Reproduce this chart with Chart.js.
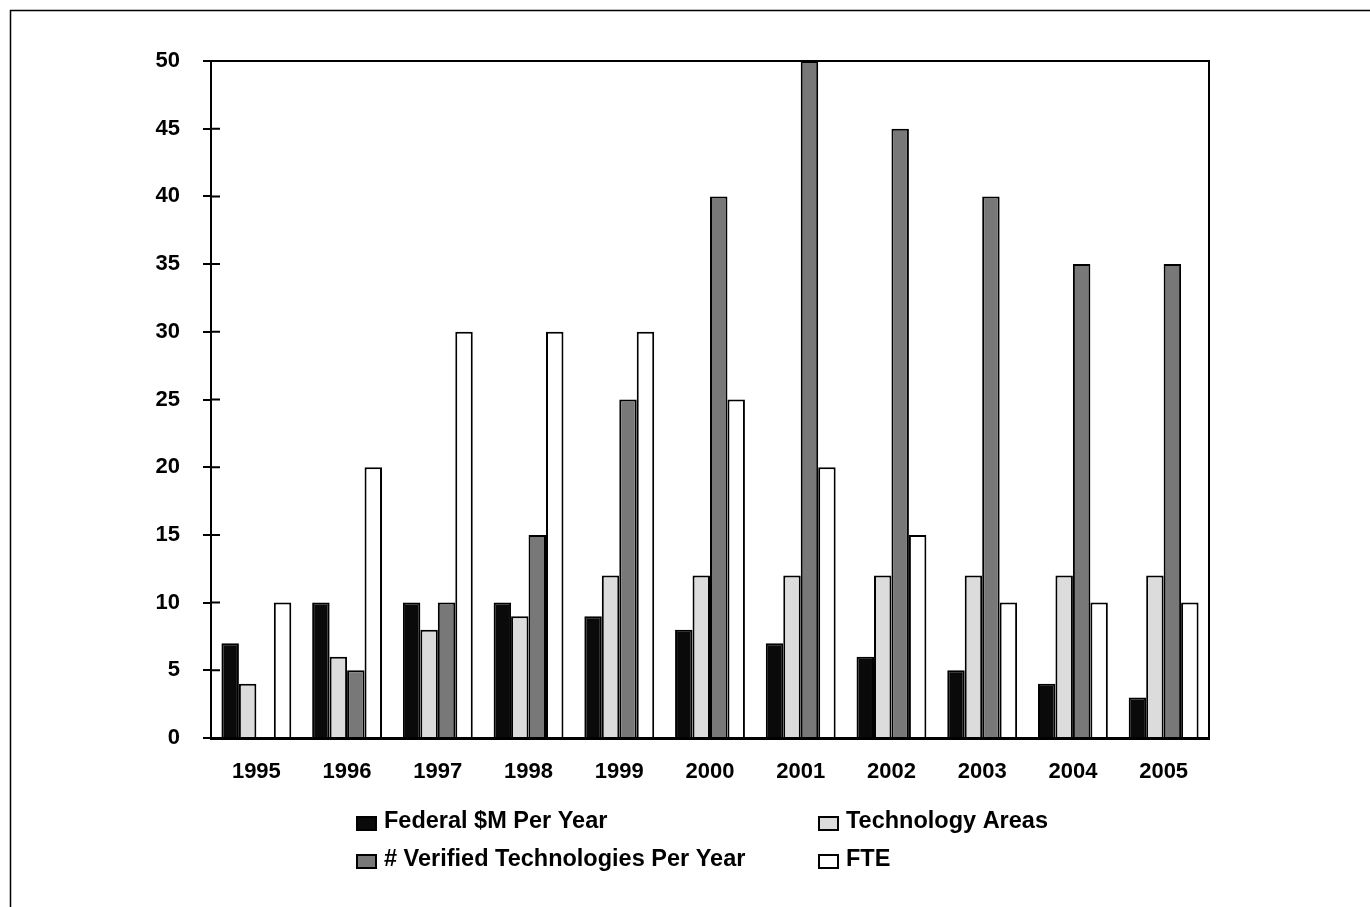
<!DOCTYPE html>
<html>
<head>
<meta charset="utf-8">
<script src="https://cdn.jsdelivr.net/npm/chart.js@4"></script>
<style>
  html, body { margin: 0; padding: 0; background: #fff; }
  #wrap { width: 1370px; height: 907px; }
</style>
</head>
<body>
<div id="wrap"><canvas id="canvas"></canvas></div>
<script>
let anos = ['1995', '1996', '1997', '1998', '1999', '2000', '2001', '2002', '2003', '2004', '2005'];
let federal = [7, 10, 10, 10, 9, 8, 7, 6, 5, 4, 3];
let areas = [4, 6, 8, 9, 12, 12, 12, 12, 12, 12, 12];
let verificadas = [null, 5, 10, 15, 25, 40, 50, 45, 40, 35, 35];
let fte = [10, 20, 30, 30, 30, 25, 20, 15, 10, 10, 10];

let fonte = { family: 'Liberation Sans, Arial, sans-serif', size: 22, weight: 'bold' };

// moldura, borda do grafico, tracos internos e legenda em duas colunas
let extras = {
  id: 'extras',
  afterDraw(chart) {
    let ctx = chart.ctx;
    let area = chart.chartArea;
    ctx.save();
    ctx.strokeStyle = '#000';

    ctx.lineWidth = 1.5;
    ctx.strokeRect(10.5, 10.5, 2000, 2000);

    ctx.lineWidth = 2;
    ctx.beginPath();
    ctx.moveTo(area.left, area.top);
    ctx.lineTo(area.right, area.top);
    ctx.lineTo(area.right, area.bottom);
    ctx.stroke();

    let y = chart.scales.y;
    ctx.beginPath();
    y.ticks.forEach(function(t) {
      let py = y.getPixelForValue(t.value);
      ctx.moveTo(area.left, py);
      ctx.lineTo(area.left + 9, py);
    });
    ctx.stroke();

    let colX = [357, 819];
    let rowY = [822, 860];
    ctx.font = 'bold 23.5px Liberation Sans, Arial, sans-serif';
    ctx.textBaseline = 'middle';
    ctx.textAlign = 'left';
    chart.data.datasets.forEach(function(ds, i) {
      let x = colX[i % 2];
      let yy = rowY[Math.floor(i / 2)];
      ctx.fillStyle = ds.backgroundColor;
      ctx.fillRect(x, yy - 5, 19, 13);
      ctx.lineWidth = 2;
      ctx.strokeStyle = '#000';
      ctx.strokeRect(x, yy - 5, 19, 13);
      ctx.fillStyle = '#000';
      ctx.fillText(ds.label, x + 27, yy);
    });
    ctx.restore();
  }
};

let configuracao = {
  type: 'bar',
  data: {
    labels: anos,
    datasets: [{
      label: 'Federal $M Per Year',
      data: federal,
      backgroundColor: '#0a0a0a'
    }, {
      label: 'Technology Areas',
      data: areas,
      backgroundColor: '#dcdcdc'
    }, {
      label: '# Verified Technologies Per Year',
      data: verificadas,
      backgroundColor: '#787878'
    }, {
      label: 'FTE',
      data: fte,
      backgroundColor: '#ffffff'
    }]
  },
  options: {
    responsive: true,
    maintainAspectRatio: false,
    animation: false,
    datasets: {
      bar: {
        borderColor: '#000',
        borderWidth: 2,
        borderSkipped: 'bottom',
        categoryPercentage: 0.77,
        barPercentage: 1
      }
    },
    layout: {
      padding: { top: 61, left: 0, right: 161, bottom: 0 }
    },
    plugins: {
      legend: { display: false },
      title: { display: false },
      tooltip: { enabled: false }
    },
    scales: {
      x: {
        grid: { display: false, drawTicks: false },
        border: { display: true, color: '#000', width: 3 },
        ticks: { color: '#000', font: fonte, padding: 21, maxRotation: 0 },
        afterFit: function(scale) { scale.height = 169; }
      },
      y: {
        min: 0,
        max: 50,
        grid: { display: true, drawOnChartArea: false, drawTicks: true, tickLength: 8, color: '#000', lineWidth: 2 },
        border: { display: true, color: '#000', width: 2 },
        ticks: { stepSize: 5, color: '#000', font: fonte, padding: 23 },
        afterFit: function(scale) { scale.width = 211; }
      }
    }
  },
  plugins: [extras]
};

let chart = new Chart(document.getElementById('canvas'), configuracao);
</script>
</body>
</html>
